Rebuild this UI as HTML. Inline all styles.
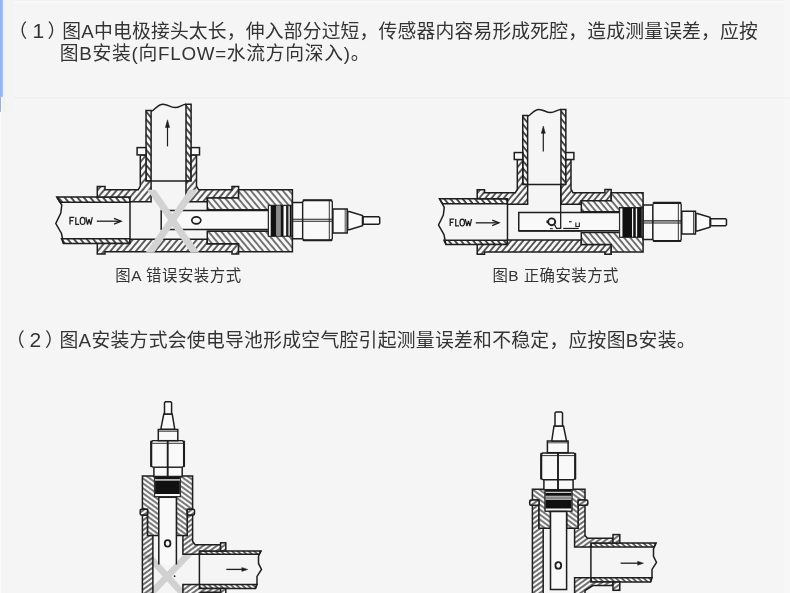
<!DOCTYPE html>
<html lang="zh"><head><meta charset="utf-8"><title>安装方式</title>
<style>
html,body{margin:0;padding:0;background:#f5f5f5;}
body{width:790px;height:593px;overflow:hidden;position:relative;font-family:"Liberation Sans",sans-serif;}
svg{position:absolute;left:0;top:0;display:block}
.t{position:absolute;color:transparent;font-size:18px;line-height:21px;white-space:nowrap;margin:0}
</style></head><body>
<p class="t" style="left:20px;top:20px">（1）图A中电极接头太长，伸入部分过短，传感器内容易形成死腔，造成测量误差，应按<br>　　图B安装(向FLOW=水流方向深入)。</p>
<p class="t" style="left:113px;top:265px;font-size:14px">图A 错误安装方式</p>
<p class="t" style="left:491px;top:265px;font-size:14px">图B 正确安装方式</p>
<p class="t" style="left:18px;top:328px">（2）图A安装方式会使电导池形成空气腔引起测量误差和不稳定，应按图B安装。</p>
<svg width="790" height="593" viewBox="0 0 790 593">
<defs><pattern id="hf" width="4.9" height="4.9" patternUnits="userSpaceOnUse" patternTransform="rotate(40)"><rect width="4.9" height="4.9" fill="#f8f8f8"/><line x1="1.0" y1="0" x2="1.0" y2="4.9" stroke="#1e1e1e" stroke-width="1.4"/></pattern><pattern id="hb" width="4.9" height="4.9" patternUnits="userSpaceOnUse" patternTransform="rotate(-40)"><rect width="4.9" height="4.9" fill="#f8f8f8"/><line x1="1.0" y1="0" x2="1.0" y2="4.9" stroke="#1e1e1e" stroke-width="1.2"/></pattern><pattern id="hp" width="4.9" height="4.9" patternUnits="userSpaceOnUse" patternTransform="rotate(-40)"><rect width="4.9" height="4.9" fill="#f8f8f8"/><line x1="1.0" y1="0" x2="1.0" y2="4.9" stroke="#1e1e1e" stroke-width="1.55"/></pattern><pattern id="hf2" width="4.7" height="4.7" patternUnits="userSpaceOnUse" patternTransform="rotate(40)"><rect width="4.7" height="4.7" fill="#f8f8f8"/><line x1="1.0" y1="0" x2="1.0" y2="4.7" stroke="#1e1e1e" stroke-width="1.4"/></pattern><pattern id="hb2" width="4.7" height="4.7" patternUnits="userSpaceOnUse" patternTransform="rotate(-40)"><rect width="4.7" height="4.7" fill="#f8f8f8"/><line x1="1.0" y1="0" x2="1.0" y2="4.7" stroke="#1e1e1e" stroke-width="1.2"/></pattern><pattern id="hp2" width="4.7" height="4.7" patternUnits="userSpaceOnUse" patternTransform="rotate(-40)"><rect width="4.7" height="4.7" fill="#f8f8f8"/><line x1="1.0" y1="0" x2="1.0" y2="4.7" stroke="#1e1e1e" stroke-width="1.55"/></pattern><pattern id="hf3" width="4.0" height="4.0" patternUnits="userSpaceOnUse" patternTransform="rotate(54)"><rect width="4.0" height="4.0" fill="#f8f8f8"/><line x1="1.0" y1="0" x2="1.0" y2="4.0" stroke="#1e1e1e" stroke-width="1.25"/></pattern><pattern id="hb3" width="4.0" height="4.0" patternUnits="userSpaceOnUse" patternTransform="rotate(-54)"><rect width="4.0" height="4.0" fill="#f8f8f8"/><line x1="1.0" y1="0" x2="1.0" y2="4.0" stroke="#1e1e1e" stroke-width="1.15"/></pattern><pattern id="hp3" width="3.7" height="3.7" patternUnits="userSpaceOnUse" patternTransform="rotate(-48)"><rect width="3.7" height="3.7" fill="#f8f8f8"/><line x1="1.0" y1="0" x2="1.0" y2="3.7" stroke="#1e1e1e" stroke-width="1.3"/></pattern></defs>
<rect x="0" y="0" width="790" height="593" fill="#f5f5f5"/>
<rect x="0" y="0" width="790" height="0.8" fill="#f1f1f1"/>
<rect x="0" y="0.8" width="790" height="2.2" fill="#f9f9f9"/>
<rect x="784.5" y="0" width="5.5" height="593" fill="#f7f7f7"/>
<rect x="0" y="97.2" width="790" height="1.5" fill="#efefef"/>
<linearGradient id="lg" x1="0" x2="1" y1="0" y2="0"><stop offset="0" stop-color="#e6f1fd"/><stop offset="0.2" stop-color="#eef4f6"/><stop offset="0.45" stop-color="#f7f5ec"/><stop offset="0.7" stop-color="#f1f3f8"/><stop offset="1" stop-color="#f5f5f5"/></linearGradient>
<rect x="2.8" y="0" width="11" height="112" fill="url(#lg)"/>
<rect x="0" y="0" width="2.8" height="96.8" fill="#94b5f4"/>
<rect x="0" y="96.8" width="1" height="15" fill="#a3afc2"/>
<rect x="0" y="112" width="1" height="481" fill="#fbfbfb"/>
<g fill="#333" font-family="'Liberation Sans','Noto Sans CJK SC',sans-serif">
<text x="8.5" y="38" font-size="18.8">（</text>
<text x="32.6" y="38.3" font-size="21">1</text>
<text x="47.5" y="38" font-size="18.8">）</text>
<text x="62.3" y="38" font-size="18.8" textLength="695.5" lengthAdjust="spacing">图A中电极接头太长，伸入部分过短，传感器内容易形成死腔，造成测量误差，应按</text>
<text x="59.8" y="60" font-size="18.8" textLength="309.8" lengthAdjust="spacing">图B安装(向FLOW=水流方向深入)。</text>
<text x="115.2" y="281.2" font-size="15.4" textLength="126" lengthAdjust="spacing">图A 错误安装方式</text>
<text x="492.4" y="281.3" font-size="15.4" textLength="126" lengthAdjust="spacing">图B 正确安装方式</text>
<text x="6" y="346.5" font-size="18.8">（</text>
<text x="29.5" y="346.8" font-size="21">2</text>
<text x="45.1" y="346.5" font-size="18.8">）</text>
<text x="59.5" y="346.5" font-size="18.8" textLength="636" lengthAdjust="spacing">图A安装方式会使电导池形成空气腔引起测量误差和不稳定，应按图B安装。</text>
</g>
<polygon points="56.80,197.00 130.00,197.00 130.00,202.20 60.00,202.20" fill="url(#hp)" stroke="#1e1e1e" stroke-width="1.5" stroke-linejoin="miter" /><polygon points="61.50,238.80 130.00,238.80 130.00,243.60 63.50,243.60" fill="url(#hp)" stroke="#1e1e1e" stroke-width="1.5" stroke-linejoin="miter" /><polyline points="56.80,197.00 61.80,205.00 60.80,213.00 55.80,223.50 61.50,233.50 63.50,243.60" fill="none" stroke="#1e1e1e" stroke-width="1.5" /><line x1="130.00" y1="197.00" x2="130.00" y2="243.60" stroke="#1e1e1e" stroke-width="1.5" /><polyline points="74.20,217.40 70.00,217.40 70.00,224.60" fill="none" stroke="#1e1e1e" stroke-width="1.25" /><line x1="70.00" y1="220.70" x2="73.20" y2="220.70" stroke="#1e1e1e" stroke-width="1.25" /><polyline points="75.80,217.20 75.80,224.30 79.20,224.30" fill="none" stroke="#1e1e1e" stroke-width="1.25" /><ellipse cx="82.60" cy="220.90" rx="2.40" ry="3.50" fill="none" stroke="#1e1e1e" stroke-width="1.25"/><polyline points="85.90,217.20 87.50,224.60 89.10,219.30 90.70,224.60 92.30,217.20" fill="none" stroke="#1e1e1e" stroke-width="1.25" stroke-linejoin="bevel"/><line x1="96.80" y1="221.20" x2="120.60" y2="221.20" stroke="#1e1e1e" stroke-width="1.3" /><polyline points="114.00,218.30 121.10,221.20 114.00,224.10" fill="none" stroke="#1e1e1e" stroke-width="1.3" /><polygon points="146.00,110.50 151.10,110.50 151.10,181.00 146.00,181.00" fill="url(#hp)" stroke="#1e1e1e" stroke-width="1.5" stroke-linejoin="miter" /><polygon points="186.00,104.30 191.10,104.30 191.10,181.00 186.00,181.00" fill="url(#hp)" stroke="#1e1e1e" stroke-width="1.5" stroke-linejoin="miter" /><path d="M151.10,111.30 C155.00,110.50 157.00,104.20 163.00,104.20 C168.00,104.20 170.00,107.60 175.00,107.60 C180.00,107.60 182.00,104.30 186.00,104.30" fill="none" stroke="#1e1e1e" stroke-width="1.5" /><line x1="151.10" y1="181.00" x2="186.00" y2="181.00" stroke="#1e1e1e" stroke-width="1.5" /><line x1="167.50" y1="126.00" x2="167.50" y2="146.40" stroke="#1e1e1e" stroke-width="1.2" /><polygon points="167.50,119.80 165.40,127.50 169.60,127.50" fill="#1e1e1e" stroke="#1e1e1e" stroke-width="0.5" stroke-linejoin="miter" /><polygon points="97.30,186.50 105.00,186.50 105.00,189.80 138.20,189.80 140.30,186.00 140.30,154.90 146.00,154.90 146.00,181.00 151.10,181.00 151.10,201.70 130.00,201.70 130.00,197.00 97.30,197.00" fill="url(#hf)" stroke="#1e1e1e" stroke-width="1.5" stroke-linejoin="miter" /><polygon points="191.10,154.90 196.50,154.90 196.50,186.00 198.60,189.80 232.00,189.80 232.00,186.40 238.60,186.40 238.60,198.00 207.30,198.00 207.30,201.70 186.00,201.70 186.00,181.00 191.10,181.00" fill="url(#hf)" stroke="#1e1e1e" stroke-width="1.5" stroke-linejoin="miter" /><polygon points="97.30,243.60 130.00,243.60 130.00,239.20 207.30,239.20 207.30,243.80 238.60,243.80 238.60,254.00 232.00,254.00 232.00,251.80 105.00,251.80 105.00,254.00 97.30,254.00" fill="url(#hf)" stroke="#1e1e1e" stroke-width="1.5" stroke-linejoin="miter" /><rect x="137.10" y="147.60" width="8.90" height="7.30" fill="#f9f9f9" stroke="#1e1e1e" stroke-width="1.5" /><rect x="191.10" y="147.60" width="8.40" height="7.30" fill="#f9f9f9" stroke="#1e1e1e" stroke-width="1.5" /><polygon points="207.30,198.00 238.60,198.00 238.60,189.70 292.40,189.70 292.40,205.50 268.50,205.50 268.50,209.70 207.30,209.70" fill="url(#hb)" stroke="#1e1e1e" stroke-width="1.5" stroke-linejoin="miter" /><polygon points="207.30,231.20 268.50,231.20 268.50,236.00 292.40,236.00 292.40,251.80 238.60,251.80 238.60,243.80 207.30,243.80" fill="url(#hb)" stroke="#1e1e1e" stroke-width="1.5" stroke-linejoin="miter" /><polygon points="268.50,210.40 161.20,210.40 161.20,229.40 268.50,229.40" fill="#f9f9f9" stroke="#1e1e1e" stroke-width="1.5" stroke-linejoin="miter" /><line x1="207.30" y1="231.20" x2="268.50" y2="231.20" stroke="#1e1e1e" stroke-width="0.9" /><ellipse cx="196.30" cy="220.30" rx="4.50" ry="3.50" fill="#fbfbfb" stroke="#1e1e1e" stroke-width="1.7"/><polygon points="268.50,205.60 292.00,205.60 292.00,236.20 268.50,236.20" fill="#fafafa" stroke="#1e1e1e" stroke-width="0.9" stroke-linejoin="miter" /><polygon points="270.70,205.60 276.50,205.60 276.50,236.20 270.70,236.20" fill="#111" stroke="none" stroke-width="0" stroke-linejoin="miter" /><polygon points="276.90,205.60 280.30,205.60 280.30,236.20 276.90,236.20" fill="#8a8a8a" stroke="none" stroke-width="0" stroke-linejoin="miter" /><polygon points="280.50,205.60 283.50,205.60 283.50,236.20 280.50,236.20" fill="#111" stroke="none" stroke-width="0" stroke-linejoin="miter" /><polygon points="286.10,205.60 288.50,205.60 288.50,236.20 286.10,236.20" fill="#222" stroke="none" stroke-width="0" stroke-linejoin="miter" /><polygon points="289.70,205.60 291.50,205.60 291.50,236.20 289.70,236.20" fill="#111" stroke="none" stroke-width="0" stroke-linejoin="miter" /><polygon points="292.50,202.50 302.70,202.50 302.70,238.70 292.50,238.70" fill="#f9f9f9" stroke="#1e1e1e" stroke-width="1.5" stroke-linejoin="miter" /><polygon points="304.20,200.30 330.80,200.30 332.30,201.80 332.30,238.80 330.80,240.30 304.20,240.30 302.70,238.80 302.70,201.80" fill="#f9f9f9" stroke="#1e1e1e" stroke-width="1.3" stroke-linejoin="miter" /><line x1="303.60" y1="200.30" x2="331.40" y2="200.30" stroke="#1e1e1e" stroke-width="2.1" stroke-linecap="round"/><line x1="303.60" y1="240.30" x2="331.40" y2="240.30" stroke="#1e1e1e" stroke-width="2.1" stroke-linecap="round"/><line x1="329.30" y1="200.70" x2="329.30" y2="239.90" stroke="#1e1e1e" stroke-width="0.9" /><line x1="292.50" y1="219.20" x2="332.30" y2="219.20" stroke="#1e1e1e" stroke-width="1.1" /><line x1="292.50" y1="221.30" x2="332.30" y2="221.30" stroke="#1e1e1e" stroke-width="1.1" /><polygon points="332.90,209.10 347.20,209.10 347.20,232.90 332.90,232.90" fill="#fafafa" stroke="#1e1e1e" stroke-width="1.5" stroke-linejoin="miter" /><line x1="345.20" y1="209.10" x2="345.20" y2="232.90" stroke="#1e1e1e" stroke-width="0.8" /><polygon points="347.70,211.50 349.20,211.50 362.50,215.50 362.50,225.80 349.20,229.80 347.70,229.80" fill="#fafafa" stroke="#1e1e1e" stroke-width="1.5" stroke-linejoin="miter" /><polygon points="363.10,216.80 378.70,216.80 379.70,217.80 379.70,223.20 378.70,224.20 363.10,224.20" fill="#fafafa" stroke="#1e1e1e" stroke-width="1.5" stroke-linejoin="miter" /><clipPath id="xc"><rect x="138" y="189.8" width="72" height="62.6"/></clipPath><g clip-path="url(#xc)" stroke="#d3d3d3" stroke-width="7" stroke-linecap="butt"><line x1="145" y1="180.8" x2="201.2" y2="261.5"/><line x1="199.4" y1="180.8" x2="143.7" y2="261.5"/></g>
<polygon points="439.49,198.76 507.48,198.76 507.48,203.73 442.54,203.73" fill="url(#hp2)" stroke="#1e1e1e" stroke-width="1.5" stroke-linejoin="miter" /><polygon points="443.98,240.21 507.48,240.21 507.48,244.60 445.89,244.60" fill="url(#hp2)" stroke="#1e1e1e" stroke-width="1.5" stroke-linejoin="miter" /><polyline points="439.49,198.76 444.26,207.36 443.31,215.00 438.53,225.03 443.98,234.58 445.89,244.60" fill="none" stroke="#1e1e1e" stroke-width="1.5" /><line x1="507.48" y1="198.76" x2="507.48" y2="244.60" stroke="#1e1e1e" stroke-width="1.5" /><polyline points="454.20,219.20 450.18,219.20 450.18,226.08" fill="none" stroke="#1e1e1e" stroke-width="1.25" /><line x1="450.18" y1="222.35" x2="453.24" y2="222.35" stroke="#1e1e1e" stroke-width="1.25" /><polyline points="455.72,219.01 455.72,225.79 458.97,225.79" fill="none" stroke="#1e1e1e" stroke-width="1.25" /><ellipse cx="462.22" cy="222.54" rx="2.29" ry="3.34" fill="none" stroke="#1e1e1e" stroke-width="1.25"/><polyline points="465.37,219.01 466.90,226.08 468.43,221.02 469.95,226.08 471.48,219.01" fill="none" stroke="#1e1e1e" stroke-width="1.25" stroke-linejoin="bevel"/><line x1="475.78" y1="222.83" x2="498.51" y2="222.83" stroke="#1e1e1e" stroke-width="1.3" /><polyline points="492.20,220.06 498.99,222.83 492.20,225.60" fill="none" stroke="#1e1e1e" stroke-width="1.3" /><polygon points="522.76,115.39 527.64,115.39 527.64,184.44 522.76,184.44" fill="url(#hp2)" stroke="#1e1e1e" stroke-width="1.5" stroke-linejoin="miter" /><polygon points="560.96,109.47 565.84,109.47 565.84,184.44 560.96,184.44" fill="url(#hp2)" stroke="#1e1e1e" stroke-width="1.5" stroke-linejoin="miter" /><path d="M527.64,116.16 C531.36,115.39 533.27,109.38 539.00,109.38 C543.77,109.38 545.68,112.62 550.46,112.62 C555.23,112.62 557.14,109.47 560.96,109.47" fill="none" stroke="#1e1e1e" stroke-width="1.5" /><line x1="527.64" y1="184.44" x2="560.96" y2="184.44" stroke="#1e1e1e" stroke-width="1.5" /><line x1="543.30" y1="131.91" x2="543.30" y2="151.40" stroke="#1e1e1e" stroke-width="1.2" /><polygon points="543.30,125.99 541.29,133.35 545.30,133.35" fill="#1e1e1e" stroke="#1e1e1e" stroke-width="0.5" stroke-linejoin="miter" /><polygon points="477.21,189.69 484.56,189.69 484.56,192.84 515.32,192.84 517.32,189.21 517.32,159.51 522.76,159.51 522.76,184.44 527.64,184.44 527.64,204.21 507.48,204.21 507.48,198.76 477.21,198.76" fill="url(#hf2)" stroke="#1e1e1e" stroke-width="1.5" stroke-linejoin="miter" /><polygon points="565.84,159.51 570.99,159.51 570.99,189.21 573.00,192.84 604.89,192.84 604.89,189.60 611.20,189.60 611.20,200.67 581.31,200.67 581.31,204.21 560.96,204.21 560.96,184.44 565.84,184.44" fill="url(#hf2)" stroke="#1e1e1e" stroke-width="1.5" stroke-linejoin="miter" /><polygon points="477.21,244.60 507.48,244.60 507.48,240.02 581.31,240.02 581.31,244.41 611.20,244.41 611.20,254.15 604.89,254.15 604.89,252.05 484.56,252.05 484.56,254.15 477.21,254.15" fill="url(#hf2)" stroke="#1e1e1e" stroke-width="1.5" stroke-linejoin="miter" /><rect x="514.27" y="152.54" width="8.50" height="6.97" fill="#f9f9f9" stroke="#1e1e1e" stroke-width="1.5" /><rect x="565.84" y="152.54" width="8.02" height="6.97" fill="#f9f9f9" stroke="#1e1e1e" stroke-width="1.5" /><polygon points="581.31,200.67 611.20,200.67 611.20,192.75 643.09,192.75 643.09,207.84 619.70,207.84 619.70,211.85 581.31,211.85" fill="url(#hb2)" stroke="#1e1e1e" stroke-width="1.5" stroke-linejoin="miter" /><polygon points="581.31,232.38 619.70,232.38 619.70,236.96 643.09,236.96 643.09,252.05 611.20,252.05 611.20,244.41 581.31,244.41" fill="url(#hb2)" stroke="#1e1e1e" stroke-width="1.5" stroke-linejoin="miter" /><polygon points="619.70,212.52 518.75,212.52 518.75,230.66 619.70,230.66" fill="#f9f9f9" stroke="#1e1e1e" stroke-width="1.5" stroke-linejoin="miter" /><line x1="581.31" y1="232.38" x2="619.70" y2="232.38" stroke="#1e1e1e" stroke-width="0.9" /><line x1="518.75" y1="231.23" x2="581.31" y2="231.23" stroke="#1e1e1e" stroke-width="1.1" /><ellipse cx="551.70" cy="221.78" rx="3.50" ry="3.40" fill="#fbfbfb" stroke="#1e1e1e" stroke-width="1.9"/><polyline points="560.68,184.44 560.68,228.46 556.57,228.46 554.57,224.74" fill="none" stroke="#1e1e1e" stroke-width="1.3" /><line x1="563.16" y1="228.46" x2="578.73" y2="228.46" stroke="#1e1e1e" stroke-width="1.2" /><line x1="549.98" y1="228.66" x2="552.85" y2="228.66" stroke="#1e1e1e" stroke-width="1.0" /><line x1="568.99" y1="221.78" x2="571.76" y2="221.78" stroke="#1e1e1e" stroke-width="1.1" /><polyline points="575.86,222.45 575.86,226.46 579.30,226.46 579.30,222.45" fill="none" stroke="#1e1e1e" stroke-width="1.1" /><line x1="546.45" y1="221.78" x2="548.17" y2="221.78" stroke="#1e1e1e" stroke-width="2.6" /><polygon points="619.70,207.93 642.71,207.93 642.71,237.15 619.70,237.15" fill="#fafafa" stroke="#1e1e1e" stroke-width="0.9" stroke-linejoin="miter" /><polygon points="622.44,207.93 632.04,207.93 632.04,237.15 622.44,237.15" fill="#111" stroke="none" stroke-width="0" stroke-linejoin="miter" /><polygon points="633.21,207.93 635.76,207.93 635.76,237.15 633.21,237.15" fill="#111" stroke="none" stroke-width="0" stroke-linejoin="miter" /><polygon points="637.13,207.93 641.83,207.93 641.83,237.15 637.13,237.15" fill="#111" stroke="none" stroke-width="0" stroke-linejoin="miter" /><polygon points="643.19,204.97 652.93,204.97 652.93,239.54 643.19,239.54" fill="#f9f9f9" stroke="#1e1e1e" stroke-width="1.5" stroke-linejoin="miter" /><polygon points="654.36,202.87 679.77,202.87 681.20,204.30 681.20,239.64 679.77,241.07 654.36,241.07 652.93,239.64 652.93,204.30" fill="#f9f9f9" stroke="#1e1e1e" stroke-width="1.3" stroke-linejoin="miter" /><line x1="653.79" y1="202.87" x2="680.34" y2="202.87" stroke="#1e1e1e" stroke-width="2.1" stroke-linecap="round"/><line x1="653.79" y1="241.07" x2="680.34" y2="241.07" stroke="#1e1e1e" stroke-width="2.1" stroke-linecap="round"/><line x1="678.33" y1="203.25" x2="678.33" y2="240.69" stroke="#1e1e1e" stroke-width="0.9" /><line x1="643.19" y1="220.92" x2="681.20" y2="220.92" stroke="#1e1e1e" stroke-width="1.1" /><line x1="643.19" y1="222.93" x2="681.20" y2="222.93" stroke="#1e1e1e" stroke-width="1.1" /><polygon points="681.77,211.27 695.43,211.27 695.43,234.00 681.77,234.00" fill="#fafafa" stroke="#1e1e1e" stroke-width="1.5" stroke-linejoin="miter" /><line x1="693.52" y1="211.27" x2="693.52" y2="234.00" stroke="#1e1e1e" stroke-width="0.8" /><polygon points="695.91,213.57 697.34,213.57 710.04,217.39 710.04,227.22 697.34,231.04 695.91,231.04" fill="#fafafa" stroke="#1e1e1e" stroke-width="1.5" stroke-linejoin="miter" /><polygon points="710.61,218.63 725.51,218.63 726.47,219.58 726.47,224.74 725.51,225.69 710.61,225.69" fill="#fafafa" stroke="#1e1e1e" stroke-width="1.5" stroke-linejoin="miter" />
<polygon points="199.40,550.90 261.00,550.90 259.00,554.30 199.40,554.30" fill="url(#hp3)" stroke="#1e1e1e" stroke-width="1.5" stroke-linejoin="miter" /><polygon points="199.40,584.60 257.00,584.60 255.50,588.40 199.40,588.40" fill="url(#hp3)" stroke="#1e1e1e" stroke-width="1.5" stroke-linejoin="miter" /><polyline points="261.00,550.90 258.50,556.30 258.50,563.45 261.50,569.45 257.00,576.45 257.00,583.60 255.50,588.40" fill="none" stroke="#1e1e1e" stroke-width="1.5" /><line x1="199.40" y1="550.90" x2="199.40" y2="588.40" stroke="#1e1e1e" stroke-width="1.5" /><line x1="226.30" y1="569.40" x2="243.80" y2="569.40" stroke="#1e1e1e" stroke-width="1.3" /><polygon points="247.80,569.40 241.80,567.40 241.80,571.40" fill="#1e1e1e" stroke="#1e1e1e" stroke-width="0.4" stroke-linejoin="miter" /><polygon points="142.40,515.00 147.60,515.00 147.60,535.50 152.90,535.50 152.90,600.00 142.40,600.00" fill="url(#hf3)" stroke="#1e1e1e" stroke-width="1.5" stroke-linejoin="miter" /><polygon points="187.20,515.00 192.60,515.00 192.60,541.30 195.10,544.80 220.60,544.80 220.60,550.90 199.40,550.90 199.40,554.30 182.90,554.30 182.90,535.50 187.20,535.50" fill="url(#hf3)" stroke="#1e1e1e" stroke-width="1.5" stroke-linejoin="miter" /><polygon points="182.90,584.60 199.40,584.60 199.40,588.40 220.60,588.40 220.60,592.20 201.40,592.20 192.60,597.20 192.60,600.00 182.90,600.00" fill="url(#hf3)" stroke="#1e1e1e" stroke-width="1.5" stroke-linejoin="miter" /><rect x="220.60" y="542.80" width="5.20" height="8.10" fill="url(#hf3)" stroke="#1e1e1e" stroke-width="1.5" /><rect x="220.60" y="588.40" width="5.20" height="7.60" fill="url(#hf3)" stroke="#1e1e1e" stroke-width="1.5" /><polygon points="142.40,476.00 154.70,476.00 154.70,496.60 158.80,496.60 158.80,535.50 147.60,535.50 147.60,509.20 142.40,509.20" fill="url(#hb3)" stroke="#1e1e1e" stroke-width="1.5" stroke-linejoin="miter" /><polygon points="192.60,476.00 180.20,476.00 180.20,496.60 176.40,496.60 176.40,535.50 187.20,535.50 187.20,509.20 192.60,509.20" fill="url(#hb3)" stroke="#1e1e1e" stroke-width="1.5" stroke-linejoin="miter" /><rect x="140.20" y="509.20" width="7.40" height="5.80" fill="url(#hf3)" stroke="#1e1e1e" stroke-width="1.5" rx="1.2"/><rect x="187.20" y="509.20" width="7.30" height="5.80" fill="url(#hf3)" stroke="#1e1e1e" stroke-width="1.5" rx="1.2"/><rect x="154.70" y="476.20" width="25.50" height="20.40" fill="#fafafa" stroke="#1e1e1e" stroke-width="0.9" /><rect x="155.10" y="476.20" width="24.70" height="2.80" fill="#111"/><rect x="155.10" y="479.00" width="24.70" height="1.70" fill="#b5b5b5"/><rect x="155.10" y="480.70" width="24.70" height="13.30" fill="#111"/><rect x="158.80" y="497.20" width="17.60" height="67.30" fill="#f9f9f9"/><polyline points="158.80,564.50 158.80,497.20 176.40,497.20 176.40,564.50" fill="none" stroke="#1e1e1e" stroke-width="1.5" /><ellipse cx="167.60" cy="543.40" rx="2.85" ry="3.20" fill="#fbfbfb" stroke="#1e1e1e" stroke-width="1.8"/><rect x="153.90" y="467.20" width="28.30" height="9.30" fill="#f9f9f9" stroke="#1e1e1e" stroke-width="1.5" /><polygon points="152.70,440.70 182.50,440.70 184.00,442.20 184.00,465.70 182.50,467.20 152.70,467.20 151.20,465.70 151.20,442.20" fill="#f9f9f9" stroke="#1e1e1e" stroke-width="1.3" stroke-linejoin="miter" /><line x1="151.20" y1="441.60" x2="151.20" y2="466.30" stroke="#1e1e1e" stroke-width="2.1" stroke-linecap="round"/><line x1="184.00" y1="441.60" x2="184.00" y2="466.30" stroke="#1e1e1e" stroke-width="2.1" stroke-linecap="round"/><line x1="151.60" y1="443.30" x2="183.60" y2="443.30" stroke="#1e1e1e" stroke-width="0.9" /><line x1="167.70" y1="440.70" x2="167.70" y2="476.00" stroke="#1e1e1e" stroke-width="1.9" /><rect x="158.30" y="429.50" width="19.50" height="11.20" fill="#fafafa" stroke="#1e1e1e" stroke-width="1.5" /><line x1="158.30" y1="431.30" x2="177.80" y2="431.30" stroke="#1e1e1e" stroke-width="0.8" /><polygon points="161.00,429.20 161.00,428.20 163.80,414.00 172.20,414.00 174.60,428.20 174.60,429.20" fill="#fafafa" stroke="#1e1e1e" stroke-width="1.5" stroke-linejoin="miter" /><polygon points="164.50,414.00 164.50,402.70 165.50,401.70 170.60,401.70 171.60,402.70 171.60,414.00" fill="#fafafa" stroke="#1e1e1e" stroke-width="1.5" stroke-linejoin="miter" /><clipPath id="xc2"><rect x="130" y="555" width="80" height="40"/></clipPath><g clip-path="url(#xc2)" stroke="#dadada" stroke-width="6.6" style="mix-blend-mode:multiply"><line x1="142.9" y1="550" x2="188.7" y2="600"/><line x1="192.6" y1="550" x2="144.6" y2="600"/></g><circle cx="174.6" cy="576.2" r="0.9" fill="#222"/>
<polygon points="590.90,543.00 656.00,543.00 654.00,547.00 590.90,547.00" fill="url(#hp3)" stroke="#1e1e1e" stroke-width="1.5" stroke-linejoin="miter" /><polygon points="590.90,577.80 652.00,577.80 650.50,582.00 590.90,582.00" fill="url(#hp3)" stroke="#1e1e1e" stroke-width="1.5" stroke-linejoin="miter" /><polyline points="656.00,543.00 653.50,549.00 653.50,556.40 656.50,562.40 652.00,569.40 652.00,576.80 650.50,582.00" fill="none" stroke="#1e1e1e" stroke-width="1.5" /><line x1="590.90" y1="543.00" x2="590.90" y2="582.00" stroke="#1e1e1e" stroke-width="1.5" /><line x1="620.60" y1="563.20" x2="639.60" y2="563.20" stroke="#1e1e1e" stroke-width="1.3" /><polygon points="643.60,563.20 637.60,561.20 637.60,565.20" fill="#1e1e1e" stroke="#1e1e1e" stroke-width="0.4" stroke-linejoin="miter" /><polygon points="532.40,505.30 539.00,505.30 539.00,528.30 543.20,528.30 543.20,600.00 532.40,600.00" fill="url(#hf3)" stroke="#1e1e1e" stroke-width="1.5" stroke-linejoin="miter" /><polygon points="578.10,505.30 585.00,505.30 585.00,535.50 587.50,538.20 613.00,538.20 613.00,543.00 590.90,543.00 590.90,547.00 574.60,547.00 574.60,528.30 578.10,528.30" fill="url(#hf3)" stroke="#1e1e1e" stroke-width="1.5" stroke-linejoin="miter" /><polygon points="574.60,577.80 590.90,577.80 590.90,582.00 613.00,582.00 613.00,585.50 592.90,585.50 585.00,590.50 585.00,600.00 574.60,600.00" fill="url(#hf3)" stroke="#1e1e1e" stroke-width="1.5" stroke-linejoin="miter" /><rect x="613.00" y="534.60" width="6.80" height="8.40" fill="url(#hf3)" stroke="#1e1e1e" stroke-width="1.5" /><rect x="613.00" y="582.00" width="6.80" height="8.30" fill="url(#hf3)" stroke="#1e1e1e" stroke-width="1.5" /><polygon points="532.40,489.20 545.20,489.20 545.20,511.00 550.50,511.00 550.50,528.30 539.00,528.30 539.00,500.00 532.40,500.00" fill="url(#hb3)" stroke="#1e1e1e" stroke-width="1.5" stroke-linejoin="miter" /><polygon points="585.00,489.20 571.80,489.20 571.80,511.00 566.60,511.00 566.60,528.30 578.10,528.30 578.10,500.00 585.00,500.00" fill="url(#hb3)" stroke="#1e1e1e" stroke-width="1.5" stroke-linejoin="miter" /><rect x="529.70" y="500.00" width="9.30" height="5.30" fill="url(#hf3)" stroke="#1e1e1e" stroke-width="1.5" rx="1.2"/><rect x="578.10" y="500.00" width="9.70" height="5.30" fill="url(#hf3)" stroke="#1e1e1e" stroke-width="1.5" rx="1.2"/><rect x="545.20" y="489.60" width="26.60" height="21.40" fill="#fafafa" stroke="#1e1e1e" stroke-width="0.9" /><rect x="545.60" y="490.00" width="25.80" height="1.80" fill="#111"/><rect x="545.60" y="492.80" width="25.80" height="3.00" fill="#111"/><rect x="545.60" y="496.30" width="25.80" height="3.10" fill="#8a8a8a"/><rect x="545.60" y="499.80" width="25.80" height="8.70" fill="#111"/><polygon points="550.50,511.60 550.50,589.60 566.60,589.60 566.60,511.60" fill="#f9f9f9" stroke="#1e1e1e" stroke-width="1.5" stroke-linejoin="miter" /><ellipse cx="558.30" cy="565.40" rx="2.90" ry="3.30" fill="#fbfbfb" stroke="#1e1e1e" stroke-width="1.8"/><rect x="543.90" y="479.60" width="29.20" height="10.10" fill="#f9f9f9" stroke="#1e1e1e" stroke-width="1.5" /><polygon points="542.70,453.00 573.70,453.00 575.20,454.50 575.20,478.10 573.70,479.60 542.70,479.60 541.20,478.10 541.20,454.50" fill="#f9f9f9" stroke="#1e1e1e" stroke-width="1.3" stroke-linejoin="miter" /><line x1="541.20" y1="453.90" x2="541.20" y2="478.70" stroke="#1e1e1e" stroke-width="2.1" stroke-linecap="round"/><line x1="575.20" y1="453.90" x2="575.20" y2="478.70" stroke="#1e1e1e" stroke-width="2.1" stroke-linecap="round"/><line x1="541.60" y1="455.60" x2="574.80" y2="455.60" stroke="#1e1e1e" stroke-width="0.9" /><line x1="558.00" y1="453.00" x2="558.00" y2="489.20" stroke="#1e1e1e" stroke-width="1.9" /><rect x="547.40" y="441.00" width="20.70" height="11.70" fill="#fafafa" stroke="#1e1e1e" stroke-width="1.5" /><line x1="547.40" y1="442.80" x2="568.10" y2="442.80" stroke="#1e1e1e" stroke-width="0.8" /><polygon points="551.90,441.00 551.90,440.00 554.00,426.00 563.50,426.00 566.40,440.00 566.40,441.00" fill="#fafafa" stroke="#1e1e1e" stroke-width="1.5" stroke-linejoin="miter" /><polygon points="555.00,426.00 555.00,413.00 556.00,412.00 561.50,412.00 562.50,413.00 562.50,426.00" fill="#fafafa" stroke="#1e1e1e" stroke-width="1.5" stroke-linejoin="miter" />
</svg>
</body></html>
